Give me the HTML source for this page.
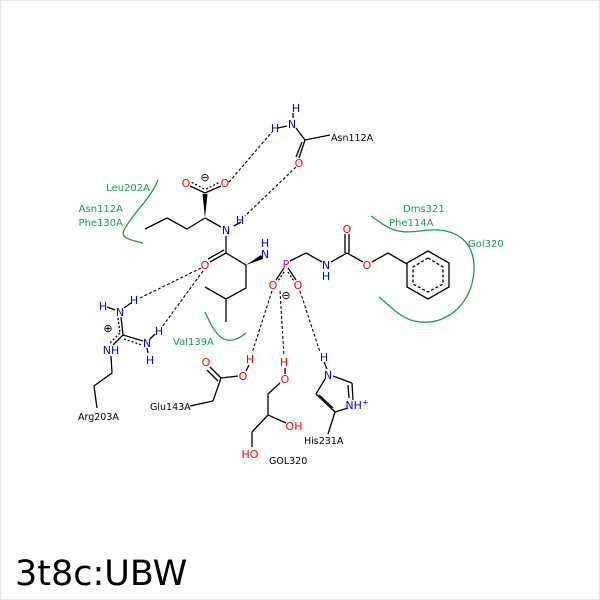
<!DOCTYPE html>
<html><head><style>
html,body{margin:0;padding:0;background:#fff}
svg{display:block}
text{font-family:"DejaVu Sans","Liberation Sans",sans-serif}
</style></head><body>
<svg width="600" height="600" viewBox="0 0 600 600" xmlns="http://www.w3.org/2000/svg">
<rect x="0.5" y="0.5" width="599" height="599" fill="#fff" stroke="#e6e6e6"/>
<g stroke="#000" stroke-width="1.3" fill="none">
<line x1="296" y1="128" x2="305" y2="140"/>
<line x1="305" y1="140" x2="330" y2="135"/>
<line x1="305" y1="140" x2="299" y2="158"/>
<line x1="302" y1="142" x2="296" y2="157"/>
<line x1="205" y1="193" x2="190" y2="186"/>
<line x1="205" y1="193" x2="221" y2="186"/>
<line x1="204" y1="189" x2="191" y2="182" stroke-dasharray="2,2"/>
<line x1="206" y1="189" x2="220" y2="182" stroke-dasharray="2,2"/>
<polyline points="205,218 187,229 167,218 145,229"/>
<line x1="205" y1="218" x2="221" y2="227"/>
<line x1="226" y1="236" x2="226" y2="253"/>
<line x1="226" y1="253" x2="210" y2="262"/>
<line x1="224" y1="250" x2="208" y2="259"/>
<line x1="226" y1="253" x2="246" y2="265"/>
<polyline points="246,265 246,288 226,299 205,287"/>
<line x1="226" y1="299" x2="226" y2="322"/>
<line x1="290" y1="261" x2="306" y2="253"/>
<line x1="306" y1="253" x2="322" y2="262"/>
<line x1="331" y1="262" x2="347" y2="253"/>
<line x1="345" y1="253" x2="345" y2="234"/>
<line x1="349" y1="253" x2="349" y2="234"/>
<line x1="347" y1="253" x2="363" y2="262"/>
<line x1="372" y1="262" x2="388" y2="253"/>
<line x1="388" y1="253" x2="407" y2="264"/>
<polygon points="428,251 449,263 449,287 428,299 407,287 407,263"/>
<polygon points="428,258 443,267 443,284 428,292 413,284 413,267" stroke-dasharray="3,2"/>
<line x1="284" y1="268" x2="276" y2="280"/>
<line x1="288" y1="268" x2="296" y2="280"/>
<line x1="284" y1="272" x2="278" y2="281" stroke-dasharray="2,2"/>
<line x1="288" y1="272" x2="294" y2="281" stroke-dasharray="2,2"/>
<line x1="121" y1="317" x2="123" y2="335"/>
<line x1="118" y1="318" x2="120" y2="333" stroke-dasharray="2,2"/>
<line x1="123" y1="335" x2="143" y2="341"/>
<line x1="124" y1="339" x2="142" y2="345" stroke-dasharray="2,2"/>
<line x1="123" y1="335" x2="113" y2="345"/>
<line x1="120" y1="333" x2="110" y2="343" stroke-dasharray="2,2"/>
<polyline points="111,356 112,373 94,386 97,408"/>
<line x1="107" y1="307" x2="115" y2="310"/>
<line x1="124" y1="308" x2="131" y2="303"/>
<line x1="150" y1="339" x2="155" y2="334"/>
<line x1="147" y1="348" x2="148" y2="353"/>
<line x1="221" y1="378" x2="210" y2="367"/>
<line x1="218" y1="381" x2="207" y2="370"/>
<line x1="221" y1="378" x2="238" y2="376"/>
<line x1="221" y1="378" x2="213" y2="401"/>
<line x1="213" y1="401" x2="190" y2="406"/>
<line x1="246" y1="371" x2="249" y2="365"/>
<line x1="285" y1="368" x2="285" y2="374"/>
<polyline points="280,383 268,394 268,415 286,423"/>
<line x1="268" y1="415" x2="252" y2="432"/>
<line x1="252" y1="432" x2="252" y2="447"/>
<line x1="324" y1="362" x2="327" y2="369"/>
<line x1="333" y1="376" x2="352" y2="383"/>
<line x1="352" y1="383" x2="353" y2="400"/>
<line x1="348" y1="385" x2="349" y2="398"/>
<line x1="348" y1="408" x2="335" y2="412"/>
<line x1="335" y1="412" x2="316" y2="394"/>
<line x1="333" y1="408" x2="319" y2="395"/>
<line x1="316" y1="394" x2="325" y2="379"/>
<line x1="335" y1="412" x2="328" y2="434"/>
<line x1="241" y1="222" x2="234" y2="226"/>
<line x1="278" y1="128" x2="287" y2="126"/>
<line x1="293" y1="113" x2="293" y2="118"/>
</g>
<polygon points="205,218 202.5,194 207.5,194" fill="#000"/>
<polygon points="246,265 261,255 263,259" fill="#000"/>
<g stroke="#000" stroke-width="1.1" stroke-dasharray="3,2" fill="none">
<line x1="229" y1="182" x2="272" y2="132"/>
<line x1="296" y1="167" x2="245" y2="216"/>
<line x1="201" y1="268" x2="140" y2="298"/>
<line x1="203" y1="271" x2="162" y2="327"/>
<line x1="272" y1="291" x2="252" y2="353"/>
<line x1="280" y1="291" x2="284" y2="356"/>
<line x1="300" y1="291" x2="320" y2="352"/>
</g>
<g stroke="#1a9a50" stroke-width="1.3" fill="none">
<path d="M158,180 C150,200 135,210 124,230 C120,238 130,240 143,243"/>
<path d="M205,312 C215,335 225,350 246,333"/>
<path d="M371,216 C385,225 392,235 420,231 C460,225 475,245 474,270 C473,300 450,325 420,322 C400,320 390,305 379,297"/>
</g>
<g font-size="10" fill="#1a9a50">
<text x="150" y="191" text-anchor="end">Leu202A</text>
<text x="123" y="212" text-anchor="end">Asn112A</text>
<text x="123" y="226" text-anchor="end">Phe130A</text>
<text x="173" y="345">Val139A</text>
<text x="403" y="212">Dms321</text>
<text x="389" y="226">Phe114A</text>
<text x="468" y="247">Gol320</text>
</g>
<g font-size="11" fill="#00f" text-anchor="middle">
<text x="296" y="112">H</text>
<text x="292" y="128">N</text>
<text x="275" y="132">H</text>
<text x="226" y="234">N</text>
<text x="240" y="224">H</text>
<text x="265" y="247">H</text>
<text x="265" y="258">N</text>
<text x="326" y="269">N</text>
<text x="326" y="280">H</text>
<text x="103" y="310">H</text>
<text x="120" y="316">N</text>
<text x="134" y="304">H</text>
<text x="147" y="347">N</text>
<text x="159" y="335">H</text>
<text x="150" y="364">H</text>
<text x="111" y="354">NH</text>
<text x="328" y="379">N</text>
<text x="324" y="361">H</text>
<text x="357" y="409">NH<tspan font-size="8" dy="-4">+</tspan></text>
</g>
<g font-size="11" fill="#f00" text-anchor="middle">
<text x="186" y="187">O</text>
<text x="225" y="187">O</text>
<text x="299" y="167">O</text>
<text x="205" y="269">O</text>
<text x="347" y="233">O</text>
<text x="367" y="269">O</text>
<text x="273" y="289">O</text>
<text x="298" y="289">O</text>
<text x="206" y="366">O</text>
<text x="243" y="380">O</text>
<text x="250" y="363">H</text>
<text x="285" y="383">O</text>
<text x="284" y="366">H</text>
<text x="294" y="430">OH</text>
<text x="250" y="458">HO</text>
</g>
<text x="286" y="268" font-size="11" fill="#e0007a" text-anchor="middle">P</text>
<g font-size="11" fill="#000" text-anchor="middle">
<text x="205" y="181">⊖</text>
<text x="286" y="299">⊖</text>
<text x="108" y="332">⊕</text>
</g>
<g font-size="9.5" fill="#000">
<text x="331" y="141">Asn112A</text>
<text x="78" y="420">Arg203A</text>
<text x="150" y="410">Glu143A</text>
<text x="269" y="464">GOL320</text>
<text x="304" y="444">His231A</text>
</g>
<text x="15" y="585" font-size="35" fill="#000">3t8c:UBW</text>
</svg>
</body></html>
